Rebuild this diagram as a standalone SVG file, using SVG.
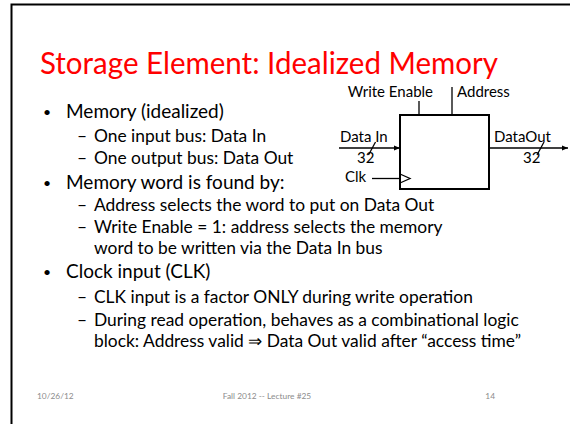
<svg xmlns="http://www.w3.org/2000/svg" width="570" height="424" viewBox="0 0 570 424">
<defs>
<style>
text{font-family:Lato,"Liberation Sans",sans-serif;fill:#000}
.title{font-size:30px;fill:#ff0000}
.l1{font-size:19px}
.dot{font-size:14px}
.l2{font-size:17.4px}
.lbl{font-size:15px}
.foot{font-size:8.4px;fill:#8c8c8c}
.wire{stroke:#000;stroke-width:1.3;fill:none}
</style>
<marker id="ah" viewBox="0 0 10 10" refX="10" refY="5" markerWidth="6" markerHeight="6" orient="auto" markerUnits="userSpaceOnUse">
<path d="M0,1 L10,5 L0,9 z" fill="#000"/>
</marker>
</defs>
<rect width="570" height="424" fill="#fff"/>
<path d="M11.5,424 V4.5 H570" fill="none" stroke="#000" stroke-width="2"/>
<text class="title" x="40" y="74" textLength="458" lengthAdjust="spacingAndGlyphs">Storage Element: Idealized Memory</text>
<g id="bullets">
<text class="dot" x="43" y="117">•</text><text class="l1" x="66" y="118">Memory (idealized)</text>
<text class="l2" x="77" y="142">–</text><text class="l2" x="94" y="142">One input bus: Data In</text>
<text class="l2" x="77" y="164">–</text><text class="l2" x="94" y="164">One output bus: Data Out</text>
<text class="dot" x="43" y="188">•</text><text class="l1" x="66" y="189">Memory word is found by:</text>
<text class="l2" x="77" y="211">–</text><text class="l2" x="94" y="211">Address selects the word to put on Data Out</text>
<text class="l2" x="77" y="233">–</text><text class="l2" x="94" y="233">Write Enable = 1: address selects the memory</text>
<text class="l2" x="94" y="254">word to be written via the Data In bus</text>
<text class="dot" x="43" y="277">•</text><text class="l1" x="66" y="278">Clock input (CLK)</text>
<text class="l2" x="77" y="303">–</text><text class="l2" x="94" y="303">CLK input is a factor ONLY during write operation</text>
<text class="l2" x="77" y="326">–</text><text class="l2" x="94" y="326">During read operation, behaves as a combinational logic</text>
<text class="l2" x="94" y="347">block: Address valid ⇒ Data Out valid after “access time”</text>
</g>
<g id="memory">
<rect x="400" y="115" width="89" height="74" fill="#fff" stroke="#000" stroke-width="2"/>
<polyline points="400,174 410,178.5 400,183" class="wire"/>
</g>
<g id="connectors">
<line x1="419" y1="101" x2="419" y2="115" class="wire"/>
<line x1="452" y1="87" x2="452" y2="115" class="wire"/>
<line x1="339" y1="148" x2="400" y2="148" class="wire" marker-end="url(#ah)"/>
<line x1="489" y1="148" x2="568" y2="148" class="wire" marker-end="url(#ah)"/>
<line x1="372" y1="178.5" x2="400" y2="178.5" class="wire"/>
<line x1="368.5" y1="155" x2="375.5" y2="142" class="wire"/>
<line x1="537" y1="155" x2="544" y2="142" class="wire"/>
</g>
<g id="labels">
<text class="lbl" x="433" y="97" text-anchor="end">Write Enable</text>
<text class="lbl" x="457" y="97">Address</text>
<text class="lbl" x="340" y="142">Data In</text>
<text class="lbl" x="357" y="163">32</text>
<text class="lbl" x="494" y="142">DataOut</text>
<text class="lbl" x="523" y="163">32</text>
<text class="lbl" x="345" y="182">Clk</text>
</g>
<g id="footer">
<text class="foot" x="37" y="399">10/26/12</text>
<text class="foot" x="267" y="399" text-anchor="middle">Fall 2012 -- Lecture #25</text>
<text class="foot" x="495" y="399" text-anchor="end">14</text>
</g>
</svg>
